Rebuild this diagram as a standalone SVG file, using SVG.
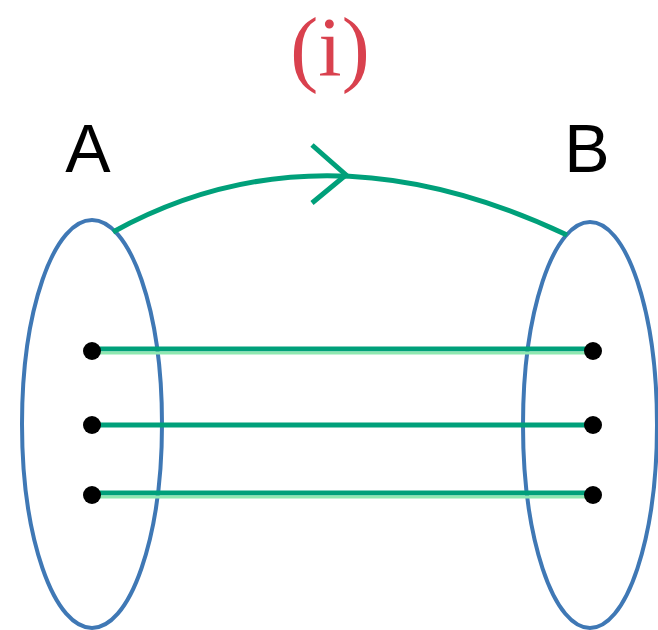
<svg xmlns="http://www.w3.org/2000/svg" width="658" height="630" viewBox="0 0 658 630">
<style>
.set{fill:none;stroke:#3f78b5;stroke-width:4}
.lbl{font-family:"Liberation Sans",Arial,sans-serif;font-size:68px;fill:#000}
.dot{fill:#000}
.ln{stroke:#00a07a;stroke-width:5;fill:none}
.lnl{stroke:#8ee8b0;stroke-width:3;fill:none}
</style>
<rect width="658" height="630" fill="#fff"/>
<text x="330" y="76" text-anchor="middle" font-family="Liberation Serif,'Times New Roman',serif" font-size="84" fill="#d9414e">(i)</text>
<g id="A">
<ellipse class="set" cx="92" cy="424" rx="70" ry="204"/>
<text class="lbl" x="88" y="172" text-anchor="middle">A</text>
</g>
<g id="B">
<ellipse class="set" cx="590" cy="425" rx="67" ry="203"/>
<text class="lbl" x="587" y="172" text-anchor="middle">B</text>
</g>
<g id="connectors">
<path class="ln" d="M113,232 Q320,118 567,235" stroke-width="4"/>
<path class="ln" d="M312,145 L346,175 L312,203" stroke-width="5"/>
<line class="ln" x1="92" y1="349" x2="593" y2="349"/>
<line class="lnl" x1="92" y1="353" x2="593" y2="353"/>
<line class="ln" x1="92" y1="425" x2="593" y2="425" stroke-width="6"/>
<line class="ln" x1="92" y1="493" x2="593" y2="493"/>
<line class="lnl" x1="92" y1="497" x2="593" y2="497"/>
</g>
<g id="dots">
<circle class="dot" cx="92" cy="351" r="9"/>
<circle class="dot" cx="92" cy="425" r="9"/>
<circle class="dot" cx="92" cy="495" r="9"/>
<circle class="dot" cx="593" cy="351" r="9"/>
<circle class="dot" cx="593" cy="425" r="9"/>
<circle class="dot" cx="593" cy="495" r="9"/>
</g>
</svg>
